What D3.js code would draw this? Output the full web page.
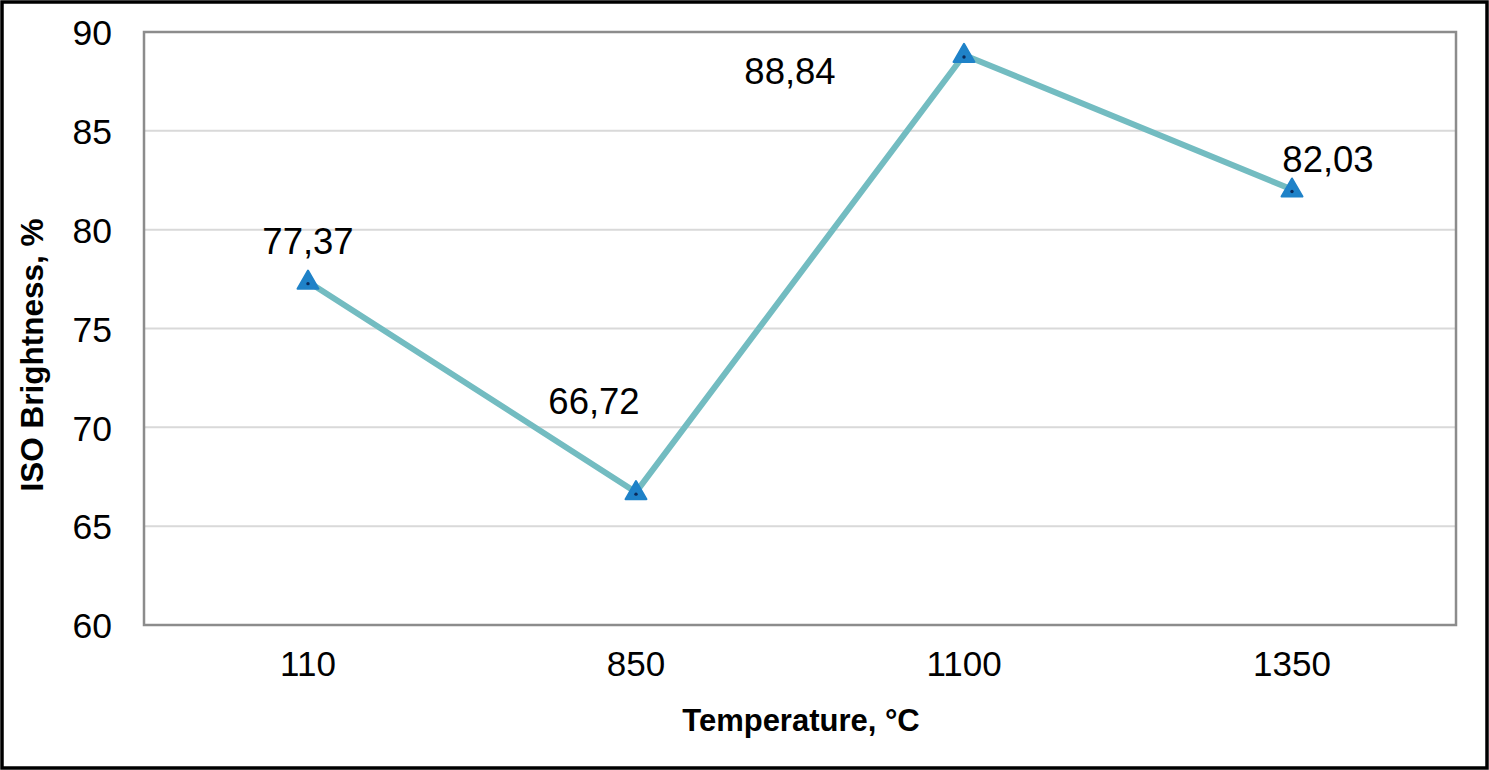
<!DOCTYPE html>
<html>
<head>
<meta charset="utf-8">
<script src="https://cdn.jsdelivr.net/npm/d3@7"></script>
<style>
  html, body { margin: 0; padding: 0; background: #fff; }
  svg { display: block; }
</style>
</head>
<body>
<svg id="chart" width="1489" height="770"></svg>
<script>
// Data
const temperatures = ["110", "850", "1100", "1350"];
const brightness = [77.37, 66.72, 88.84, 82.03];
const valueLabels = ["77,37", "66,72", "88,84", "82,03"];
const yTicks = [60, 65, 70, 75, 80, 85, 90];

// Label placement relative to each point (layout only)
const labelOffsets = [
  { dx: 0, dy: -28 },
  { dx: -42, dy: -78 },
  { dx: -174, dy: 29 },
  { dx: 36, dy: -18 },
];

const width = 1489;
const height = 770;
const plot = { left: 144, top: 32, right: 1456, bottom: 625 };
const FONT = "Arial, 'Liberation Sans', sans-serif";

const svg = d3.select("#chart");

// outer frame
svg.append("rect")
  .attr("x", 2).attr("y", 2)
  .attr("width", width - 4).attr("height", height - 4)
  .attr("fill", "#fff")
  .attr("stroke", "#000")
  .attr("stroke-width", 3.5);

const x = d3.scaleBand()
  .domain(temperatures)
  .range([plot.left, plot.right]);

const y = d3.scaleLinear()
  .domain([60, 90])
  .range([plot.bottom, plot.top]);

const cx = (d) => x(d) + x.bandwidth() / 2;

// gridlines
svg.append("g")
  .selectAll("line")
  .data(yTicks.slice(1, -1))
  .join("line")
  .attr("x1", plot.left).attr("x2", plot.right)
  .attr("y1", (d) => y(d)).attr("y2", (d) => y(d))
  .attr("stroke", "#d9d9d9")
  .attr("stroke-width", 2);

// plot border
svg.append("rect")
  .attr("x", plot.left).attr("y", plot.top)
  .attr("width", plot.right - plot.left)
  .attr("height", plot.bottom - plot.top)
  .attr("fill", "none")
  .attr("stroke", "#8c8c8c")
  .attr("stroke-width", 2.5);

// y axis
const yAxis = svg.append("g")
  .attr("transform", `translate(${plot.left},0)`)
  .call(d3.axisLeft(y).tickValues(yTicks).tickSize(0).tickPadding(32));
yAxis.select(".domain").remove();
yAxis.selectAll("text")
  .attr("font-family", FONT)
  .attr("font-size", 35.5)
  .attr("fill", "#000")
  .attr("dy", "0.36em");

// x axis
const xAxis = svg.append("g")
  .attr("transform", `translate(0,${plot.bottom})`)
  .call(d3.axisBottom(x).tickSize(0).tickPadding(26));
xAxis.select(".domain").remove();
xAxis.selectAll("text")
  .attr("font-family", FONT)
  .attr("font-size", 35)
  .attr("fill", "#000");

// axis titles
svg.append("text")
  .attr("x", 801)
  .attr("y", 731)
  .attr("text-anchor", "middle")
  .attr("font-family", FONT)
  .attr("font-weight", "bold")
  .attr("font-size", 31)
  .text("Temperature, °C");

svg.append("text")
  .attr("transform", "translate(43,355) rotate(-90)")
  .attr("text-anchor", "middle")
  .attr("font-family", FONT)
  .attr("font-weight", "bold")
  .attr("font-size", 31.5)
  .text("ISO Brightness, %");

// line
const points = temperatures.map((t, i) => ({ t, v: brightness[i] }));
const line = d3.line()
  .x((d) => cx(d.t))
  .y((d) => y(d.v));

svg.append("path")
  .datum(points)
  .attr("d", line)
  .attr("fill", "none")
  .attr("stroke", "#73bcc1")
  .attr("stroke-width", 6)
  .attr("stroke-linejoin", "round");

// markers
const tri = d3.symbol().type(d3.symbolTriangle).size(190);
const markers = svg.append("g")
  .selectAll("g")
  .data(points)
  .join("g")
  .attr("transform", (d) => `translate(${cx(d.t)},${y(d.v) + 1})`);
markers.append("path")
  .attr("d", tri)
  .attr("fill", "#1f82c8")
  .attr("stroke", "#1f82c8")
  .attr("stroke-width", 2)
  .attr("stroke-linejoin", "round");
markers.append("circle")
  .attr("r", 1.7)
  .attr("cy", 1)
  .attr("fill", "#0b2a5a");

// value labels
svg.append("g")
  .selectAll("text")
  .data(points)
  .join("text")
  .attr("x", (d, i) => cx(d.t) + labelOffsets[i].dx)
  .attr("y", (d, i) => y(d.v) + labelOffsets[i].dy)
  .attr("text-anchor", "middle")
  .attr("font-family", FONT)
  .attr("font-size", 36.5)
  .attr("fill", "#000")
  .text((d, i) => valueLabels[i]);
</script>
</body>
</html>
